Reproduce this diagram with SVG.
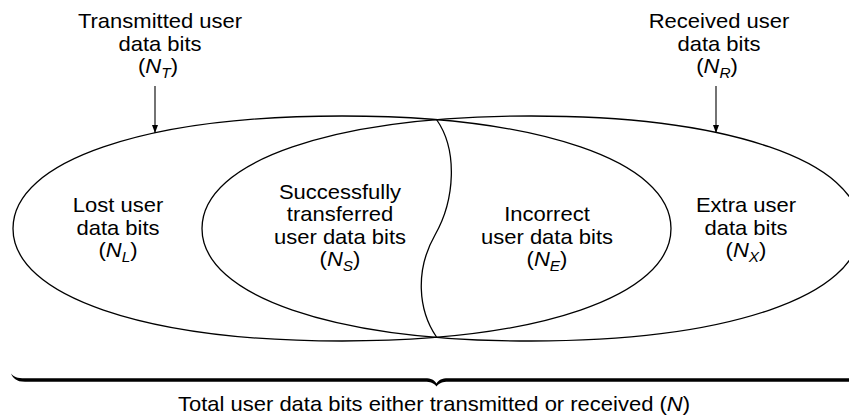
<svg xmlns="http://www.w3.org/2000/svg" width="849" height="416" viewBox="0 0 849 416">
<defs>
<style>
text{font-family:"Liberation Sans",Arial,Helvetica,sans-serif;font-size:20px;fill:#000;text-anchor:middle}
.it{font-style:italic}
.sub{font-style:italic;font-size:14px}
.set{fill:none;stroke:#000;stroke-width:1.3}
.arrow{fill:none;stroke:#000;stroke-width:1.1}
</style>
<marker id="ah" markerWidth="8" markerHeight="10" refX="8" refY="4" orient="auto" markerUnits="userSpaceOnUse" viewBox="0 0 8 8">
<path d="M0,1 L8,4 L0,7 Z" fill="#000"/>
</marker>
</defs>
<rect width="849" height="416" fill="#fff"/>

<g id="transmitted-set">
<path class="set" d="M13,228.5 C13,161 144.6,116 342,116 C539.4,116 671,161 671,228.5 C671,296 539.4,341 342,341 C144.6,341 13,296 13,228.5 Z"/>
</g>
<g id="received-set">
<path class="set" d="M202,228.5 C202,161 333.6,116 531,116 C728.4,116 860,161 860,228.5 C860,296 728.4,341 531,341 C333.6,341 202,296 202,228.5 Z"/>
</g>
<g id="divider">
<path class="set" d="M436.5,119.5 C458,150 455,200 435,235 C415,270 418,310 436.5,337"/>
</g>

<g id="connectors">
<line class="arrow" x1="155" y1="86" x2="155" y2="133" marker-end="url(#ah)"/>
<line class="arrow" x1="716" y1="86" x2="716" y2="133" marker-end="url(#ah)"/>
</g>

<g id="label-transmitted">
<text transform="translate(160,28) scale(1.1,1)">Transmitted user</text>
<text transform="translate(160,50.5) scale(1.1,1)">data bits</text>
<text transform="translate(158,73) scale(1.1,1)">(<tspan class="it">N</tspan><tspan class="sub" dy="5">T</tspan><tspan dy="-5">)</tspan></text>
</g>
<g id="label-received">
<text transform="translate(719,28) scale(1.1,1)">Received user</text>
<text transform="translate(719,50.5) scale(1.1,1)">data bits</text>
<text transform="translate(717,73) scale(1.1,1)">(<tspan class="it">N</tspan><tspan class="sub" dy="5">R</tspan><tspan dy="-5">)</tspan></text>
</g>
<g id="node-lost">
<text transform="translate(118,212) scale(1.1,1)">Lost user</text>
<text transform="translate(118,234.5) scale(1.1,1)">data bits</text>
<text transform="translate(118,257) scale(1.1,1)">(<tspan class="it">N</tspan><tspan class="sub" dy="5">L</tspan><tspan dy="-5">)</tspan></text>
</g>
<g id="node-success">
<text transform="translate(340,198.5) scale(1.1,1)">Successfully</text>
<text transform="translate(340,221) scale(1.1,1)">transferred</text>
<text transform="translate(340,243.5) scale(1.1,1)">user data bits</text>
<text transform="translate(340,266) scale(1.1,1)">(<tspan class="it">N</tspan><tspan class="sub" dy="5">S</tspan><tspan dy="-5">)</tspan></text>
</g>
<g id="node-incorrect">
<text transform="translate(547,221) scale(1.1,1)">Incorrect</text>
<text transform="translate(547,243.5) scale(1.1,1)">user data bits</text>
<text transform="translate(547,266) scale(1.1,1)">(<tspan class="it">N</tspan><tspan class="sub" dy="5">E</tspan><tspan dy="-5">)</tspan></text>
</g>
<g id="node-extra">
<text transform="translate(746,212) scale(1.1,1)">Extra user</text>
<text transform="translate(746,234.5) scale(1.1,1)">data bits</text>
<text transform="translate(746,257) scale(1.1,1)">(<tspan class="it">N</tspan><tspan class="sub" dy="5">X</tspan><tspan dy="-5">)</tspan></text>
</g>

<g id="total-brace">
<path fill="#000" d="M11,373.5 C14,377 17,378.3 25,378.3 L425,378.3 C431,378.3 434.5,380 436.5,383.5 C438.5,380 442,378.3 448,378.3 L870,378.3 L870,381.8 L448,381.8 C443,381.8 439,383 436.5,386.5 C434,383 430,381.8 425,381.8 L25,381.8 C16,381.8 13,378 11,373.5 Z"/>
<text transform="translate(434,411) scale(1.1,1)">Total user data bits either transmitted or received (<tspan class="it">N</tspan>)</text>
</g>
</svg>
